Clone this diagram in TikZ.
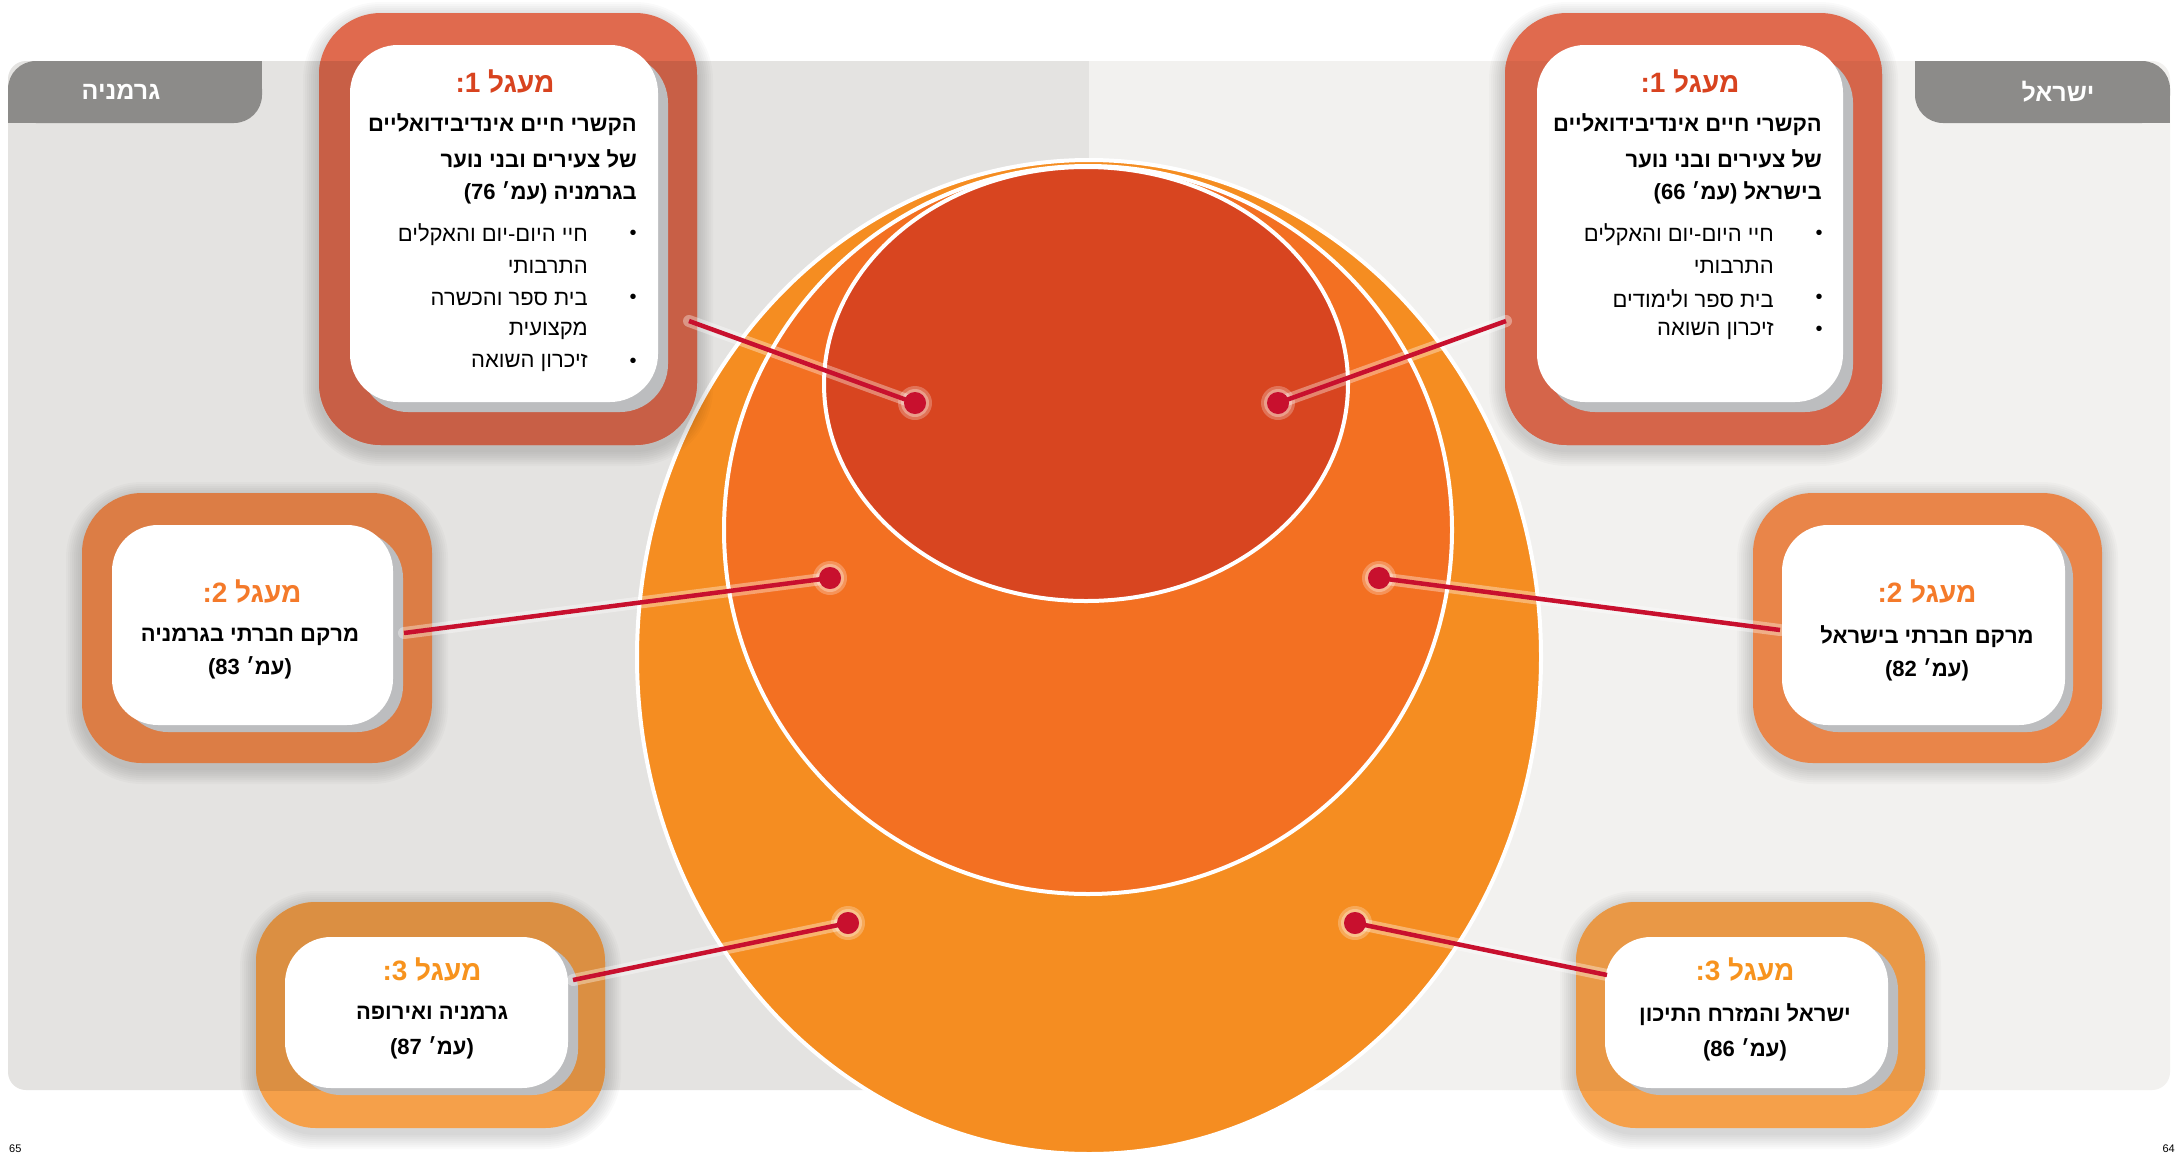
\documentclass[tikz,border=0pt]{standalone}
\usepackage{fontspec}
\newfontfamily\hebfont[Script=Hebrew]{Liberation Sans}
\TeXXeTstate=1
\newcommand\heb[1]{\beginR#1\endR}
\definecolor{panelL}{HTML}{E4E3E1}
\definecolor{panelR}{HTML}{F2F1EF}
\definecolor{tabgray}{HTML}{8C8B89}
\definecolor{cOuter}{HTML}{F58D21}
\definecolor{cMid}{HTML}{F37022}
\definecolor{cInner}{HTML}{D84520}
\definecolor{fA}{HTML}{E06A4E}
\definecolor{fAL}{HTML}{C85F46}
\definecolor{fAR}{HTML}{D5654A}
\definecolor{fB}{HTML}{F68C4D}
\definecolor{fBL}{HTML}{DC7D45}
\definecolor{fBR}{HTML}{E98549}
\definecolor{fC}{HTML}{F5A04A}
\definecolor{fCL}{HTML}{DB8F42}
\definecolor{fCR}{HTML}{E99846}
\definecolor{tA}{HTML}{D8431F}
\definecolor{tB}{HTML}{F47A2A}
\definecolor{tC}{HTML}{F7931E}
\definecolor{shgray}{HTML}{BCBDBF}
\definecolor{linered}{HTML}{C8102E}
\newcommand\softshadow[5]{%
  \foreach \k in {2,4,...,16}{\fill[black,opacity=0.018,rounded corners=#5+\k] (#1-\k,#2-\k+5) rectangle (#3+\k,#4+\k+5);}}
\begin{document}
\begin{tikzpicture}[x=1pt,y=-1pt,
  whitebox/.style={fill=white,rounded corners=46pt,inner sep=0pt},
  titletext/.style={font=\hebfont\bfseries\fontsize{28}{30}\selectfont,inner sep=0pt},
  headline/.style={font=\hebfont\bfseries\fontsize{22}{30}\selectfont,inner sep=0pt,anchor=east},
  bodytext/.style={font=\hebfont\bfseries\fontsize{22}{33}\selectfont,inner sep=0pt,align=center},
  bulline/.style={font=\hebfont\fontsize{22}{30}\selectfont,inner sep=0pt,anchor=east},
  tabtext/.style={font=\hebfont\bfseries\fontsize{25}{30}\selectfont,text=white,inner sep=0pt},
  dot/.style={circle,fill=linered,minimum size=22pt,inner sep=0pt},
  conn/.style={draw=linered,line width=4.5pt},
  connglow/.style={draw=white,opacity=0.35,line width=12pt,line cap=round},
  bulletdot/.style={font=\hebfont\fontsize{20}{24}\selectfont,inner sep=0pt}]
\useasboundingbox (0,0) rectangle (2178,1154);
\fill[white] (0,0) rectangle (2178,1154);
% panels
\fill[panelL,rounded corners=18pt] (8,61) rectangle (1089,1090);
\fill[panelR,rounded corners=18pt] (1089,61) rectangle (2170,1090);
\fill[panelL] (1050,61) rectangle (1089,1090);
\fill[panelR] (1089,61) rectangle (1130,1090);
% tabs
\fill[tabgray,rounded corners=28pt] (8,61) rectangle (262,123);
\fill[tabgray] (150,61) rectangle (262,95);
\fill[tabgray] (8,92) rectangle (100,123);
\fill[tabgray,rounded corners=28pt] (1915,61) rectangle (2170,123);
\fill[tabgray] (1915,61) rectangle (2030,95);
\fill[tabgray] (2080,92) rectangle (2170,123);
\node[tabtext] (tabG) at (121,92) {\heb{גרמניה}};
\node[tabtext] (tabI) at (2058,92) {\heb{ישראל}};
% circles
\fill[cOuter,draw=white,line width=4pt] (1089,657) ellipse [x radius=452, y radius=497];
\fill[cMid,draw=white,line width=4pt] (1088,530) ellipse [x radius=364, y radius=364];
\fill[cInner,draw=white,line width=4pt] (1086,384) ellipse [x radius=262, y radius=217];
% soft shadows of frames
\softshadow{319}{13}{697}{445}{62}
\softshadow{1505}{13}{1882}{445}{62}
\softshadow{82}{493}{432}{763}{60}
\softshadow{1753}{493}{2102}{763}{60}
\softshadow{256}{902}{605}{1128}{60}
\softshadow{1576}{902}{1925}{1128}{60}
% frames
\node[fill=fA,rounded corners=62pt,minimum width=378pt,minimum height=432pt,inner sep=0pt] (fG1) at (508,229) {};
\begin{scope}\clip (8,61) rectangle (1089,1090);
\fill[fAL,rounded corners=62pt] (319,13) rectangle (697,445);
\end{scope}
\node[fill=fA,rounded corners=62pt,minimum width=377pt,minimum height=432pt,inner sep=0pt] (fI1) at (1693.5,229) {};
\begin{scope}\clip (1089,61) rectangle (2170,1090);
\fill[fAR,rounded corners=62pt] (1505,13) rectangle (1882,445);
\end{scope}
\node[fill=fBL,rounded corners=60pt,minimum width=350pt,minimum height=270pt,inner sep=0pt] (fG2) at (257,628) {};
\node[fill=fBR,rounded corners=60pt,minimum width=349pt,minimum height=270pt,inner sep=0pt] (fI2) at (1927.5,628) {};
\node[fill=fC,rounded corners=60pt,minimum width=349pt,minimum height=226pt,inner sep=0pt] (fG3) at (430.5,1015) {};
\begin{scope}\clip (8,61) rectangle (1089,1090);
\fill[fCL,rounded corners=60pt] (256,902) rectangle (605,1128);
\end{scope}
\node[fill=fC,rounded corners=60pt,minimum width=349pt,minimum height=226pt,inner sep=0pt] (fI3) at (1750.5,1015) {};
\begin{scope}\clip (1089,61) rectangle (2170,1090);
\fill[fCR,rounded corners=60pt] (1576,902) rectangle (1925,1128);
\end{scope}
% gray shadows of white cards
\fill[shgray,rounded corners=48pt] (360,55) rectangle (668,412);
\fill[shgray,rounded corners=48pt] (1547,55) rectangle (1853,412);
\fill[shgray,rounded corners=46pt] (122,532) rectangle (403,732);
\fill[shgray,rounded corners=46pt] (1792,532) rectangle (2073,732);
\fill[shgray,rounded corners=46pt] (295,944) rectangle (578,1095);
\fill[shgray,rounded corners=46pt] (1615,944) rectangle (1898,1095);
% white cards
\node[whitebox,rounded corners=48pt,minimum width=308pt,minimum height=357pt] (wG1) at (504,223.5) {};
\node[whitebox,rounded corners=48pt,minimum width=306pt,minimum height=357pt] (wI1) at (1690,223.5) {};
\node[whitebox,minimum width=281pt,minimum height=200pt] (wG2) at (252.5,625) {};
\node[whitebox,minimum width=283pt,minimum height=200pt] (wI2) at (1923.5,625) {};
\node[whitebox,minimum width=283pt,minimum height=151pt] (wG3) at (426.5,1012.5) {};
\node[whitebox,minimum width=283pt,minimum height=151pt] (wI3) at (1746.5,1012.5) {};
% dots
\node[dot] (dG1) at (915,403) {};
\node[dot] (dI1) at (1278,403) {};
\node[dot] (dG2) at (830,578) {};
\node[dot] (dI2) at (1379,578) {};
\node[dot] (dG3) at (848,923) {};
\node[dot] (dI3) at (1355,923) {};
\coordinate (eG1) at (689,321);
\coordinate (eI1) at (1506,321);
\coordinate (eG2) at (404,633);
\coordinate (eI2) at (1780,630);
\coordinate (eG3) at (573,980);
\coordinate (eI3) at (1607,975);
% glows
\foreach \n in {G1,I1,G2,I2,G3,I3}{
  \draw[connglow] (d\n.center) -- (e\n);
  \fill[white,opacity=0.25] (d\n.center) circle [radius=17];
  \fill[white,opacity=0.3] (d\n.center) circle [radius=14];
}
\foreach \n in {G1,I1,G2,I2,G3,I3}{
  \draw[conn] (d\n.center) -- (e\n);
  \node[dot] at (d\n) {};
}
% texts G1
\node[titletext,text=tA] (ttG1) at (505,82) {\heb{מעגל 1:}};
\node[headline] (hG1a) at (637,125) {\heb{הקשרי חיים אינדיבידואליים}};
\node[headline] (hG1b) at (637,159) {\heb{של צעירים ובני נוער}};
\node[headline] (hG1c) at (637,193) {\heb{בגרמניה (עמ׳ 76)}};
\node[bulline] (lG1a) at (588,235) {\heb{חיי היום-יום והאקלים}};
\node[bulline] (lG1b) at (588,267) {\heb{התרבותי}};
\node[bulline] (lG1c) at (588,299) {\heb{בית ספר והכשרה}};
\node[bulline] (lG1d) at (588,331) {\heb{מקצועית}};
\node[bulline] (lG1e) at (588,363) {\heb{זיכרון השואה}};
\node[bulletdot] (bu1) at (633,235) {•};
\node[bulletdot] (bu2) at (633,299) {•};
\node[bulletdot] (bu3) at (633,363) {•};
% texts I1
\node[titletext,text=tA] (ttI1) at (1690,82) {\heb{מעגל 1:}};
\node[headline] (hI1a) at (1822,125) {\heb{הקשרי חיים אינדיבידואליים}};
\node[headline] (hI1b) at (1822,159) {\heb{של צעירים ובני נוער}};
\node[headline] (hI1c) at (1822,193) {\heb{בישראל (עמ׳ 66)}};
\node[bulline] (lI1a) at (1774,235) {\heb{חיי היום-יום והאקלים}};
\node[bulline] (lI1b) at (1774,267) {\heb{התרבותי}};
\node[bulline] (lI1c) at (1774,299) {\heb{בית ספר ולימודים}};
\node[bulline] (lI1d) at (1774,331) {\heb{זיכרון השואה}};
\node[bulletdot] (bu4) at (1819,235) {•};
\node[bulletdot] (bu5) at (1819,299) {•};
\node[bulletdot] (bu6) at (1819,331) {•};
% texts circle 2
\node[titletext,text=tB] (ttG2) at (252,592) {\heb{מעגל 2:}};
\node[bodytext] (bG2) at (250,653.5) {\heb{מרקם חברתי בגרמניה}\\\heb{(עמ׳ 83)}};
\node[titletext,text=tB] (ttI2) at (1927,592) {\heb{מעגל 2:}};
\node[bodytext] (bI2) at (1927,653.5) {\heb{מרקם חברתי בישראל}\\\heb{(עמ׳ 82)}};
% texts circle 3
\node[titletext,text=tC] (ttG3) at (432,970) {\heb{מעגל 3:}};
\node[bodytext,font=\hebfont\bfseries\fontsize{22}{35}\selectfont] (bG3) at (432,1032.5) {\heb{גרמניה ואירופה}\\\heb{(עמ׳ 87)}};
\node[titletext,text=tC] (ttI3) at (1745,970) {\heb{מעגל 3:}};
\node[bodytext,font=\hebfont\bfseries\fontsize{22}{35}\selectfont] (bI3) at (1745,1032.5) {\heb{ישראל והמזרח התיכון}\\\heb{(עמ׳ 86)}};
% page numbers
\node[font=\hebfont\fontsize{11}{13}\selectfont,anchor=south west,inner sep=0pt] (pgL) at (9,1153) {65};
\node[font=\hebfont\fontsize{11}{13}\selectfont,anchor=south east,inner sep=0pt] (pgR) at (2175,1153) {64};
\end{tikzpicture}
\end{document}
